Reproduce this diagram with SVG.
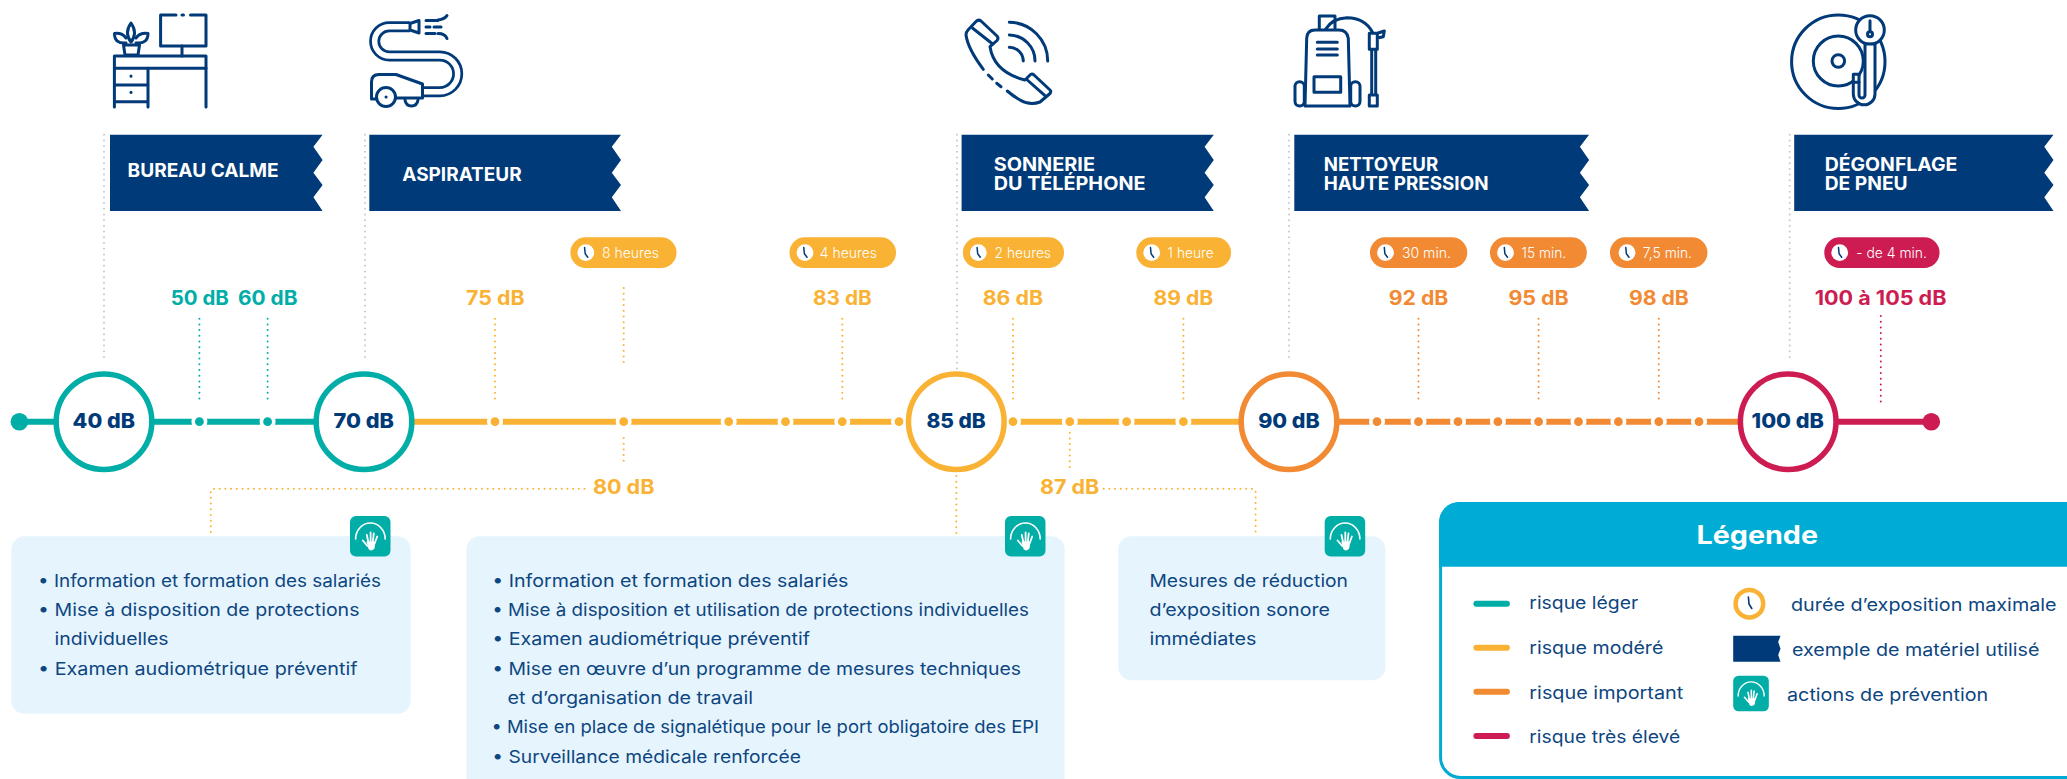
<svg xmlns="http://www.w3.org/2000/svg" width="2067" height="779" viewBox="0 0 2067 779">
<style>
text{font-family:Inter,"Liberation Sans",sans-serif}
.ban{fill:#003a78}
.bt{font-size:18.5px;font-weight:700;fill:#fff}
.db{font-size:19.7px;font-weight:700}
.cl{font-size:20.5px;font-weight:800;fill:#003a78}
.pt{font-size:14.5px;font-weight:300;fill:#fff}
.body{font-size:17.5px;font-weight:400;fill:#0d4680}
.panel{fill:#e6f4fd}
.teal{fill:#00ada7;stroke:#00ada7}
.yel{fill:#f9b233;stroke:#f9b233}
.ora{fill:#f18a33;stroke:#f18a33}
.red{fill:#cc1c52;stroke:#cc1c52}
.tt{fill:#00ada7}.ty{fill:#f9b233}.to{fill:#f18a33}.tr{fill:#cc1c52}
.seg{stroke-width:6;fill:none}
.dot{stroke:#fff;stroke-width:3.6}
.ring{fill:#fff;stroke-width:5.5}
.dv{fill:none;stroke-width:2;stroke-linecap:round;stroke-dasharray:0 5.7}
.gr{stroke:#c9c9c9}
.sy{stroke:#f9b233}.st{stroke:#00ada7}.so{stroke:#f18a33}.sr{stroke:#cc1c52}
.ic{fill:none;stroke:#003a78;stroke-width:3;stroke-linecap:round;stroke-linejoin:round}
.lg{stroke-width:6;stroke-linecap:round;fill:none}
</style>
<defs>
<g id="clock"><circle r="8.4" fill="#fff"/><path d="M-1.2-5L-.6 1.2 2 4.6" fill="none" stroke="#003a78" stroke-width="1.5" stroke-linecap="round" stroke-linejoin="round"/></g>
<g id="hand">
<rect width="40.5" height="40.5" rx="6" fill="#00ada7"/>
<path d="M5.6 23A14.8 16 0 0 1 35.2 23" fill="none" stroke="#fff" stroke-width="1.6" stroke-linecap="round"/>
<path d="M16.5 25.5H25.5L24.5 32.5Q21 36 18.5 33Z" fill="#fff"/>
<path d="M18.3 26L16.8 19M20.6 26V16.5M22.8 26L23.8 17.5M24.8 27L27.2 20.5M17.5 30L12.8 24.5" fill="none" stroke="#fff" stroke-width="1.8" stroke-linecap="round"/>
</g>
</defs>

<g id="connectors">
<g class="dv gr">
<path d="M104 134.7V362"/><path d="M365 134.7V362"/><path d="M957 134.7V370"/><path d="M1289 134.7V362"/><path d="M1789.7 134.7V362"/>
</g>
<g class="dv st"><path d="M199.4 318.7V403"/><path d="M267.6 318.7V403"/></g>
<g class="dv sy">
<path d="M495 318.7V403"/><path d="M623.7 288V363"/><path d="M623.7 438V466"/><path d="M842.3 318.7V403"/><path d="M1013 318.7V403"/><path d="M1183.4 318.7V403"/><path d="M1069.8 427V467"/>
<path d="M584.5 488.7H213Q210.8 488.7 210.8 491V534"/><path d="M956.3 476V535"/><path d="M1103.7 488.7H1253Q1255.6 488.7 1255.6 491V535"/>
</g>
<g class="dv so"><path d="M1418.5 318.7V403"/><path d="M1538.6 318.7V403"/><path d="M1658.8 318.7V403"/></g>
<g class="dv sr"><path d="M1880.8 316V403"/></g>
<path class="seg teal" d="M19.4 421.7H364"/>
<path class="seg yel" d="M364 421.7H1289"/>
<path class="seg ora" d="M1289 421.7H1788"/>
<path class="seg red" d="M1788 421.7H1931"/>
<circle cx="19.4" cy="421.7" r="8.8" class="teal" stroke-width="0"/>
<circle cx="1931.3" cy="421.7" r="8.8" class="red" stroke-width="0"/>
<g class="dot" style="fill:#00ada7"><circle cx="199.4" cy="421.7" r="6.2"/><circle cx="267.6" cy="421.7" r="6.2"/></g>
<g class="dot" style="fill:#f9b233"><circle cx="495" cy="421.7" r="6.2"/><circle cx="623.7" cy="421.7" r="6.2"/><circle cx="728.7" cy="421.7" r="6.2"/><circle cx="785.5" cy="421.7" r="6.2"/><circle cx="842.3" cy="421.7" r="6.2"/><circle cx="899" cy="421.7" r="6.2"/><circle cx="1013" cy="421.7" r="6.2"/><circle cx="1069.8" cy="421.7" r="6.2"/><circle cx="1126.6" cy="421.7" r="6.2"/><circle cx="1183.4" cy="421.7" r="6.2"/></g>
<g class="dot" style="fill:#f18a33"><circle cx="1377" cy="421.7" r="6.2"/><circle cx="1418.5" cy="421.7" r="6.2"/><circle cx="1458" cy="421.7" r="6.2"/><circle cx="1497.9" cy="421.7" r="6.2"/><circle cx="1538.6" cy="421.7" r="6.2"/><circle cx="1578.5" cy="421.7" r="6.2"/><circle cx="1618.4" cy="421.7" r="6.2"/><circle cx="1658.8" cy="421.7" r="6.2"/><circle cx="1699" cy="421.7" r="6.2"/></g>
</g>

<g id="node-40"><circle cx="104" cy="421.7" r="47.8" class="ring" stroke="#00ada7"/><text class="cl" x="72.6" y="428.3" textLength="62.4" lengthAdjust="spacingAndGlyphs">40 dB</text></g>
<g id="node-70"><circle cx="364" cy="421.7" r="47.8" class="ring" stroke="#00ada7"/><text class="cl" x="333.6" y="428.3" textLength="60.4" lengthAdjust="spacingAndGlyphs">70 dB</text></g>
<g id="node-85"><circle cx="956.3" cy="421.7" r="47.8" class="ring" stroke="#f9b233"/><text class="cl" x="926.4" y="428.3" textLength="59.4" lengthAdjust="spacingAndGlyphs">85 dB</text></g>
<g id="node-90"><circle cx="1289" cy="421.7" r="47.8" class="ring" stroke="#f18a33"/><text class="cl" x="1258.2" y="428.3" textLength="61.6" lengthAdjust="spacingAndGlyphs">90 dB</text></g>
<g id="node-100"><circle cx="1788.2" cy="421.7" r="47.8" class="ring" stroke="#cc1c52"/><text class="cl" x="1751.6" y="428.3" textLength="72.4" lengthAdjust="spacingAndGlyphs">100 dB</text></g>

<g id="labels-db">
<text class="db tt" x="170.8" y="305" textLength="58.1" lengthAdjust="spacingAndGlyphs">50 dB</text>
<text class="db tt" x="238" y="305" textLength="59.5" lengthAdjust="spacingAndGlyphs">60 dB</text>
<text class="db ty" x="466" y="305" textLength="58.6" lengthAdjust="spacingAndGlyphs">75 dB</text>
<text class="db ty" x="592.9" y="494.3" textLength="61.6" lengthAdjust="spacingAndGlyphs">80 dB</text>
<text class="db ty" x="813" y="305" textLength="58.8" lengthAdjust="spacingAndGlyphs">83 dB</text>
<text class="db ty" x="982.7" y="305" textLength="60.3" lengthAdjust="spacingAndGlyphs">86 dB</text>
<text class="db ty" x="1153.5" y="305" textLength="59.8" lengthAdjust="spacingAndGlyphs">89 dB</text>
<text class="db ty" x="1040" y="494.3" textLength="59.3" lengthAdjust="spacingAndGlyphs">87 dB</text>
<text class="db to" x="1388.8" y="305" textLength="59.6" lengthAdjust="spacingAndGlyphs">92 dB</text>
<text class="db to" x="1508.4" y="305" textLength="60.4" lengthAdjust="spacingAndGlyphs">95 dB</text>
<text class="db to" x="1628.9" y="305" textLength="60" lengthAdjust="spacingAndGlyphs">98 dB</text>
<text class="db tr" x="1814.7" y="305" textLength="131.8" lengthAdjust="spacingAndGlyphs">100 à 105 dB</text>
</g>

<g id="pill-8h"><rect class="ty" x="570.4" y="237.3" width="106.1" height="30.7" rx="15.3"/><use href="#clock" x="585.8" y="252.6"/><text class="pt" x="602" y="258.2" textLength="57" lengthAdjust="spacingAndGlyphs">8 heures</text></g>
<g id="pill-4h"><rect class="ty" x="789.5" y="237.3" width="106.5" height="30.7" rx="15.3"/><use href="#clock" x="805" y="252.6"/><text class="pt" x="819.8" y="258.2" textLength="57.2" lengthAdjust="spacingAndGlyphs">4 heures</text></g>
<g id="pill-2h"><rect class="ty" x="962.9" y="237.3" width="101.1" height="30.7" rx="15.3"/><use href="#clock" x="978.3" y="252.6"/><text class="pt" x="994.6" y="258.2" textLength="56.4" lengthAdjust="spacingAndGlyphs">2 heures</text></g>
<g id="pill-1h"><rect class="ty" x="1136.3" y="237.3" width="94.7" height="30.7" rx="15.3"/><use href="#clock" x="1151.7" y="252.6"/><text class="pt" x="1167.6" y="258.2" textLength="46.2" lengthAdjust="spacingAndGlyphs">1 heure</text></g>
<g id="pill-30"><rect class="to" x="1370" y="237.3" width="97.2" height="30.7" rx="15.3"/><use href="#clock" x="1385.5" y="252.6"/><text class="pt" x="1401.9" y="258.2" textLength="49.1" lengthAdjust="spacingAndGlyphs">30 min.</text></g>
<g id="pill-15"><rect class="to" x="1490" y="237.3" width="96.8" height="30.7" rx="15.3"/><use href="#clock" x="1505.5" y="252.6"/><text class="pt" x="1521.6" y="258.2" textLength="44.6" lengthAdjust="spacingAndGlyphs">15 min.</text></g>
<g id="pill-75"><rect class="to" x="1610" y="237.3" width="97.4" height="30.7" rx="15.3"/><use href="#clock" x="1627" y="252.6"/><text class="pt" x="1642.8" y="258.2" textLength="49.2" lengthAdjust="spacingAndGlyphs">7,5 min.</text></g>
<g id="pill-4m"><rect class="tr" x="1824.3" y="237.3" width="115.2" height="30.7" rx="15.3"/><use href="#clock" x="1839.7" y="252.6"/><text class="pt" x="1856.3" y="258.2" textLength="70.6" lengthAdjust="spacingAndGlyphs">- de 4 min.</text></g>

<g id="banner-bureau"><path class="ban" d="M110 134.7H322.6L313.4 146.7 322.6 160 313.4 172.7 322.6 185 313.4 197.3 322.6 211H110Z"/><text class="bt" x="127.6" y="176.7" textLength="151" lengthAdjust="spacingAndGlyphs">BUREAU CALME</text></g>
<g id="banner-aspirateur"><path class="ban" d="M369.3 134.7H621L611.8 146.7 621 160 611.8 172.7 621 185 611.8 197.3 621 211H369.3Z"/><text class="bt" x="402.3" y="180.7" textLength="119.3" lengthAdjust="spacingAndGlyphs">ASPIRATEUR</text></g>
<g id="banner-sonnerie"><path class="ban" d="M961.6 134.7H1213.8L1204.6 146.7 1213.8 160 1204.6 172.7 1213.8 185 1204.6 197.3 1213.8 211H961.6Z"/><text class="bt" x="993.7" y="170.7" textLength="101.3" lengthAdjust="spacingAndGlyphs">SONNERIE</text><text class="bt" x="993.7" y="189.7" textLength="151.8" lengthAdjust="spacingAndGlyphs">DU TÉLÉPHONE</text></g>
<g id="banner-nettoyeur"><path class="ban" d="M1294.3 134.7H1589.1L1579.9 146.7 1589.1 160 1579.9 172.7 1589.1 185 1579.9 197.3 1589.1 211H1294.3Z"/><text class="bt" x="1323.8" y="170.7" textLength="114.4" lengthAdjust="spacingAndGlyphs">NETTOYEUR</text><text class="bt" x="1323.8" y="189.7" textLength="164.7" lengthAdjust="spacingAndGlyphs">HAUTE PRESSION</text></g>
<g id="banner-degonflage"><path class="ban" d="M1794.2 134.7H2053.5L2044.3 146.7 2053.5 160 2044.3 172.7 2053.5 185 2044.3 197.3 2053.5 211H1794.2Z"/><text class="bt" x="1824.7" y="170.7" textLength="132.7" lengthAdjust="spacingAndGlyphs">DÉGONFLAGE</text><text class="bt" x="1824.7" y="189.7" textLength="83" lengthAdjust="spacingAndGlyphs">DE PNEU</text></g>

<g id="icon-bureau" class="ic">
<path d="M176 15H160.6V46H206V15H190.5M182 15H183.5"/>
<path d="M182 46V56"/>
<path d="M114.4 56H206V68.3H114.4Z"/>
<path d="M114.4 68.3V107M148 68.3V107M206 68.3V107M114.4 85H148M114.4 101.7H148"/>
<path d="M131 76.2V76M131 92.4V92.2"/>
<path d="M123.5 45H139.5L138 55H125Z"/>
<path d="M131 23Q124 33 131 42Q138 33 131 23Z"/>
<path d="M126 43Q114.5 44 114.5 33.5Q122 32.5 126 38M136 43Q148 44 148 33.5Q140 32.5 136 38"/>
</g>
<g id="icon-aspirateur">
<path d="M410 26.7H389.3A14.65 14.65 0 0 0 389.3 56H439.85A17.85 17.85 0 0 1 439.85 91.7H422" fill="none" stroke="#003a78" stroke-width="11"/>
<path d="M410 26.7H389.3A14.65 14.65 0 0 0 389.3 56H439.85A17.85 17.85 0 0 1 439.85 91.7H422" fill="none" stroke="#fff" stroke-width="5.5"/>
<g class="ic">
<path d="M410 23.5L419 20.5V33L410 30Z"/>
<path d="M376 99H371.5V82Q371.5 74.5 379 74.5H396L422.5 84V98H396"/>
<circle cx="386" cy="97" r="9.5" fill="#fff"/><path d="M386 97H386.1"/>
<path d="M405 100Q406 106 411.5 106Q417 106 418 100"/>
<path d="M426 20.5H438M426 27H430M434 27H441M426 33.5H435M438 20Q445 19 447 15.5M438 33.5Q445 33.5 447 38.5"/>
</g></g>
<g id="icon-phone" class="ic">
<path d="M983.3 69.3Q968 49 966 35Q966 32 968 30L976 21.5Q978.3 19 981 21L997 36Q999 38.3 997 40.5L990 46.7Q994 72 1025 80L1030 75Q1031.7 73 1034 75L1050 90Q1051.5 91.5 1050 93.5L1040 102Q1030 106 1020 100Q1013 96 1007.3 91"/>
<path d="M972.7 28.3L991.7 43.3M1027.3 80L1045 95.7"/>
<path d="M988.3 75L992.3 79M996.7 83.3L1001 86.7"/>
<path d="M1009.3 22.3A38.7 38.7 0 0 1 1047.7 61M1009.3 35A26 26 0 0 1 1035 61M1009.3 47.3A14 14 0 0 1 1023.3 61"/>
</g>
<g id="icon-nettoyeur" class="ic">
<path d="M1305 106L1306.7 38.3Q1307 30 1315 30H1339Q1347 30 1348.3 38.3L1350 106Z"/>
<path d="M1319.3 29V16H1335V29"/>
<path d="M1325.7 29Q1332 18.5 1347 17.7Q1365 18 1372.3 32"/>
<path d="M1317.3 42.3H1337.3M1317.3 49H1337.3M1317.3 55H1337.3"/>
<path d="M1314 76.7H1340.7V92.3H1314Z"/>
<rect x="1295" y="81.7" width="9.3" height="24.3" rx="4.5"/>
<rect x="1350.7" y="81.7" width="9.3" height="24.3" rx="4.5"/>
<path d="M1369.3 33.3H1377.3V49.3H1369.3ZM1371.7 49.3V95M1375.7 49.3V95M1369.3 95H1377.3V106H1369.3ZM1377.3 33.3L1384.3 31 1383.3 36.7 1377.3 38"/>
</g>
<g id="icon-disque" class="ic">
<circle cx="1838.3" cy="61.7" r="46.7"/>
<circle cx="1838.3" cy="61" r="25"/>
<circle cx="1838.3" cy="61" r="6.3"/>
<circle cx="1870" cy="30" r="14.3" fill="#fff"/>
<path d="M1870 20.7V31"/><circle cx="1870" cy="34.3" r="2.5"/>
<path fill="#fff" d="M1853.3 74.3H1859V95A3 3 0 0 0 1865 95V44H1875V94A10.85 10.85 0 0 1 1853.3 94Z"/>
<path d="M1853.3 82.3H1859"/>
</g>

<g id="panel-1"><rect class="panel" x="11.4" y="536.3" width="399.2" height="177.4" rx="13"/>
<use href="#hand" x="350" y="516"/>
<text class="body" x="38" y="587.3" textLength="343" lengthAdjust="spacingAndGlyphs">• Information et formation des salariés</text>
<text class="body" x="38" y="616.3" textLength="321.5" lengthAdjust="spacingAndGlyphs">• Mise à disposition de protections</text>
<text class="body" x="54.6" y="645.3" textLength="114" lengthAdjust="spacingAndGlyphs">individuelles</text>
<text class="body" x="38" y="674.7" textLength="319.5" lengthAdjust="spacingAndGlyphs">• Examen audiométrique préventif</text>
</g>
<g id="panel-2"><rect class="panel" x="466.5" y="536.3" width="598.1" height="260" rx="13"/>
<use href="#hand" x="1005" y="516"/>
<text class="body" x="492.2" y="587.3" textLength="356.3" lengthAdjust="spacingAndGlyphs">• Information et formation des salariés</text>
<text class="body" x="492.2" y="616.3" textLength="536.8" lengthAdjust="spacingAndGlyphs">• Mise à disposition et utilisation de protections individuelles</text>
<text class="body" x="492.2" y="645.3" textLength="317.8" lengthAdjust="spacingAndGlyphs">• Examen audiométrique préventif</text>
<text class="body" x="492.2" y="674.7" textLength="528.8" lengthAdjust="spacingAndGlyphs">• Mise en œuvre d’un programme de mesures techniques</text>
<text class="body" x="507.4" y="704" textLength="245.6" lengthAdjust="spacingAndGlyphs">et d’organisation de travail</text>
<text class="body" x="491.4" y="733" textLength="547.6" lengthAdjust="spacingAndGlyphs">• Mise en place de signalétique pour le port obligatoire des EPI</text>
<text class="body" x="492.2" y="763" textLength="308.8" lengthAdjust="spacingAndGlyphs">• Surveillance médicale renforcée</text>
</g>
<g id="panel-3"><rect class="panel" x="1118.3" y="536.3" width="267" height="144" rx="13"/>
<use href="#hand" x="1324.7" y="516"/>
<text class="body" x="1149.4" y="587.3" textLength="198.6" lengthAdjust="spacingAndGlyphs">Mesures de réduction</text>
<text class="body" x="1149.4" y="616.3" textLength="180.6" lengthAdjust="spacingAndGlyphs">d’exposition sonore</text>
<text class="body" x="1149.4" y="645.3" textLength="107.1" lengthAdjust="spacingAndGlyphs">immédiates</text>
</g>

<g id="legende">
<rect x="1440.6" y="503.5" width="700" height="274" rx="20" fill="#fff" stroke="#00acd3" stroke-width="3"/>
<path d="M1439.1 566.7V522A20 20 0 0 1 1459.1 502H2070V566.7Z" fill="#00acd3"/>
<text x="1696.4" y="544" font-size="25" font-weight="700" fill="#fff" textLength="121.7" lengthAdjust="spacingAndGlyphs">Légende</text>
<path class="lg" stroke="#00ada7" d="M1476.4 603.7H1506.9"/>
<path class="lg" stroke="#f9b233" d="M1476.4 647.7H1506.9"/>
<path class="lg" stroke="#f18a33" d="M1476.4 691.7H1506.9"/>
<path class="lg" stroke="#cc1c52" d="M1476.4 736H1506.9"/>
<text class="body" x="1529.3" y="609.3" textLength="109" lengthAdjust="spacingAndGlyphs">risque léger</text>
<text class="body" x="1529.3" y="654" textLength="134" lengthAdjust="spacingAndGlyphs">risque modéré</text>
<text class="body" x="1529.3" y="698.7" textLength="154" lengthAdjust="spacingAndGlyphs">risque important</text>
<text class="body" x="1529.3" y="742.7" textLength="151" lengthAdjust="spacingAndGlyphs">risque très élevé</text>
<circle cx="1749.4" cy="603.7" r="13.8" fill="#fff" stroke="#f9b233" stroke-width="4.5"/>
<path d="M1748.4 597L1749 604 1751.8 608.5" fill="none" stroke="#003a78" stroke-width="1.6" stroke-linecap="round" stroke-linejoin="round"/>
<text class="body" x="1791" y="610.7" textLength="265.6" lengthAdjust="spacingAndGlyphs">durée d’exposition maximale</text>
<path class="ban" d="M1733.2 635.7H1780.5L1778.2 642 1780.5 648.7 1778.2 655 1780.5 661.7H1733.2Z"/>
<text class="body" x="1792" y="655.7" textLength="247.5" lengthAdjust="spacingAndGlyphs">exemple de matériel utilisé</text>
<use href="#hand" transform="translate(1733.2 675.7) scale(.88)"/>
<text class="body" x="1787" y="700.7" textLength="201.3" lengthAdjust="spacingAndGlyphs">actions de prévention</text>
</g>
</svg>
